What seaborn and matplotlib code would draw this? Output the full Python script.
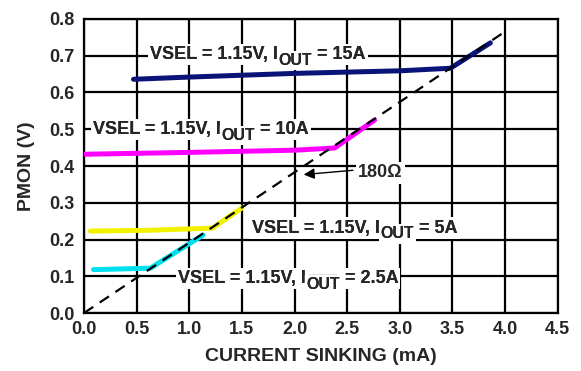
import numpy as np
import pandas as pd
import seaborn as sns
import matplotlib
matplotlib.use("Agg")
import matplotlib.pyplot as plt

# ---- data ----
x_15a = [0.47, 1.0, 2.0, 3.0, 3.48, 3.86]
y_15a = [0.636, 0.642, 0.652, 0.659, 0.666, 0.735]
x_10a = [0.0, 1.0, 2.0, 2.38, 2.76]
y_10a = [0.432, 0.437, 0.443, 0.449, 0.525]
x_5a = [0.06, 0.6, 1.22, 1.5]
y_5a = [0.223, 0.225, 0.231, 0.286]
x_2p5a = [0.09, 0.63, 1.13]
y_2p5a = [0.118, 0.122, 0.212]
x_ref = [0.0, 3.98]
y_ref = [0.0, 0.762]

series_names = ["15A", "10A", "5A", "2.5A"]
series_colors = ["#0a1478", "#ff00ff", "#f2f200", "#00e0f0"]
x_ticks = [0.0, 0.5, 1.0, 1.5, 2.0, 2.5, 3.0, 3.5, 4.0, 4.5]
y_ticks = [0.0, 0.1, 0.2, 0.3, 0.4, 0.5, 0.6, 0.7, 0.8]

sns.set_theme(style="white")
plt.rcParams['font.family'] = ['Liberation Sans', 'DejaVu Sans']
plt.rcParams['font.weight'] = 'bold'

FS = 13
SFS = 11.5
LFS = 14

frames = []
for name, xs, ys in zip(series_names, [x_15a, x_10a, x_5a, x_2p5a],
                        [y_15a, y_10a, y_5a, y_2p5a]):
    frames.append(pd.DataFrame({"x": xs, "y": ys, "series": name}))
df = pd.concat(frames, ignore_index=True)

fig = plt.figure(figsize=(5.81, 3.71), dpi=100)
ax = fig.add_axes([0.1446, 0.1563, 0.8154, 0.7925])

sns.lineplot(data=df, x="x", y="y", hue="series", palette=series_colors,
             hue_order=series_names, sort=False, estimator=None, lw=3.6,
             legend=False, ax=ax, zorder=3)
ref_df = pd.DataFrame({"x": x_ref, "y": y_ref})
sns.lineplot(data=ref_df, x="x", y="y", color="black", lw=1.6, ax=ax,
             linestyle=(0, (5, 3.5)), zorder=4)

ax.set_xlim(0, 4.5)
ax.set_ylim(0, 0.8)
ax.set_xticks(x_ticks)
ax.set_yticks(y_ticks)
ax.set_xticklabels([f"{v:.1f}" for v in x_ticks], fontsize=FS, fontweight='bold')
ax.set_yticklabels([f"{v:.1f}" for v in y_ticks], fontsize=FS, fontweight='bold')
ax.tick_params(axis='x', length=0, pad=6)
ax.tick_params(axis='y', length=0, pad=7)
ax.grid(True, color="black", lw=1.6)
ax.set_axisbelow(True)
for s in ax.spines.values():
    s.set_color("black")
    s.set_linewidth(1.6)

ax.set_xlabel("CURRENT SINKING (mA)", fontsize=LFS, fontweight='bold', labelpad=7)
ax.set_ylabel("PMON (V)", fontsize=LFS, fontweight='bold', labelpad=10)

box = dict(facecolor="white", edgecolor="none", pad=1.5)

def label(x, y, cur):
    # pass 0 draws the white boxes, pass 1 draws the glyphs on top of them
    for layer, bb in ((5, box), (6, None)):
        kw = dict(fontweight='bold', zorder=layer)
        if bb is not None:
            kw['bbox'] = bb
        t1 = ax.text(x, y, "VSEL = 1.15V, I", fontsize=FS, ha='left',
                     va='center', **kw)
        t2 = ax.annotate("OUT", xy=(1, 0), xycoords=t1, xytext=(0.3, -3.5),
                         textcoords='offset points', fontsize=SFS,
                         ha='left', va='bottom', **kw)
        ax.annotate(" = " + cur, xy=(1, 0), xycoords=(t2, t1), xytext=(0, 0),
                    textcoords='offset points', fontsize=FS,
                    ha='left', va='bottom', **kw)

label(0.63, 0.703, "15A")
label(0.085, 0.499, "10A")
label(1.6, 0.231, "5A")
label(0.89, 0.094, "2.5A")

ax.annotate("", xy=(2.06, 0.376), xytext=(2.58, 0.389),
            arrowprops=dict(arrowstyle="-|>", color="black", lw=1.0,
                            mutation_scale=16), zorder=5)
ax.text(2.6, 0.381, "180Ω", fontsize=FS, fontweight='bold',
        ha='left', va='center', bbox=box, zorder=5)

fig.savefig("out.png", dpi=100)
